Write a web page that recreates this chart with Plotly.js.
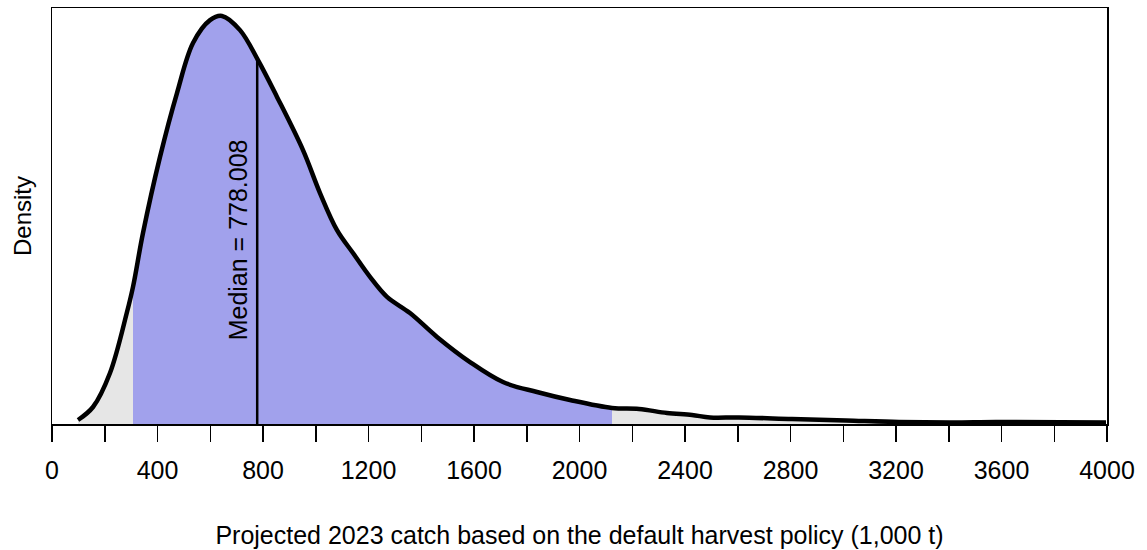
<!DOCTYPE html>
<html>
<head>
<meta charset="utf-8">
<script src="https://cdn.plot.ly/plotly-3.0.1.min.js"></script>
<style>html,body{margin:0;padding:0;background:#fff;}#chart{width:1147px;height:550px;}</style>
</head>
<body>
<div id="chart"></div>
<script>
// Projected 2023 catch (1,000 t) and kernel density
const catchValues = [98.6, 155.5, 219.9, 284.4, 307.1, 345.0, 409.5, 473.9, 534.6, 599.1, 644.5, 712.8, 781.0, 853.1, 951.7, 1016.1, 1080.6, 1141.2, 1205.7, 1270.1, 1357.3, 1459.7, 1584.8, 1709.9, 1838.9, 1964.0, 2123.2, 2225.6, 2331.8, 2426.5, 2494.8, 2604.7, 2805.7, 3010.4, 3211.4, 3416.1, 3579.1, 3996.2];
const densityValues = [0.0000124, 0.0000527, 0.000158, 0.000347, 0.000425, 0.000592, 0.000828, 0.001026, 0.001181, 0.001252, 0.001265, 0.001221, 0.001128, 0.001014, 0.000849, 0.000716, 0.000601, 0.000530, 0.000456, 0.000394, 0.000344, 0.000270, 0.000192, 0.000130, 0.0000992, 0.0000744, 0.0000496, 0.0000465, 0.0000341, 0.0000279, 0.0000202, 0.0000202, 0.0000155, 0.0000109, 0.0000062, 0.0000047, 0.0000062, 0.0000047];
const intervalLower = 307.1;
const intervalUpper = 2123.2;
const medianValue = 778.008;
const medianDensity = 0.00113;
const tickValues = [0, 200, 400, 600, 800, 1000, 1200, 1400, 1600, 1800, 2000, 2200, 2400, 2600, 2800, 3000, 3200, 3400, 3600, 3800, 4000];
const tickLabels = ["0", "", "400", "", "800", "", "1200", "", "1600", "", "2000", "", "2400", "", "2800", "", "3200", "", "3600", "", "4000"];
const xTitle = "Projected 2023 catch based on the default harvest policy (1,000 t)";
const yTitle = "Density";
const medianLabel = "Median = " + medianValue;

const midX = [], midY = [];
catchValues.forEach((v, i) => { if (v >= intervalLower && v <= intervalUpper) { midX.push(v); midY.push(densityValues[i]); } });

const fontFam = '"Liberation Sans", Arial, Helvetica, sans-serif';
const sm = 1.0;
const traces = [
  {x: catchValues, y: densityValues, type: 'scatter', mode: 'lines', fill: 'tozeroy', fillcolor: '#E6E6E6', line: {width: 0, shape: 'spline', smoothing: sm}, hoverinfo: 'skip'},
  {x: midX, y: midY, type: 'scatter', mode: 'lines', fill: 'tozeroy', fillcolor: '#A1A1EC', line: {width: 0, shape: 'spline', smoothing: sm}, hoverinfo: 'skip'},
  {x: [medianValue, medianValue], y: [0, medianDensity], type: 'scatter', mode: 'lines', line: {color: '#000', width: 2.5}, hoverinfo: 'skip'},
  {x: catchValues, y: densityValues, type: 'scatter', mode: 'lines', line: {color: '#000', width: 4.5, shape: 'spline', smoothing: sm}, hoverinfo: 'skip'}
];

const layout = {
  width: 1147, height: 550,
  margin: {l: 52, r: 40, t: 8, b: 126},
  paper_bgcolor: '#fff', plot_bgcolor: '#fff',
  showlegend: false,
  font: {family: fontFam, color: '#000', size: 25},
  xaxis: {
    range: [0, 4000], tickvals: tickValues, ticktext: tickLabels,
    ticks: 'outside', ticklen: 16, tickwidth: 1.5, tickcolor: '#000',
    ticklabelstandoff: 7,
    showline: true, linecolor: '#000', linewidth: 1.5, mirror: true,
    showgrid: false, zeroline: false,
    tickfont: {size: 25, family: fontFam},
    title: {text: xTitle, font: {size: 25, family: fontFam}, standoff: 44}
  },
  yaxis: {
    range: [0, 0.0012896],
    showticklabels: false, ticks: '',
    showline: true, linecolor: '#000', linewidth: 1.5, mirror: true,
    showgrid: false, zeroline: false,
    title: {text: yTitle, font: {size: 24, family: fontFam}, standoff: 12}
  },
  annotations: [{
    x: medianValue, xref: 'x', y: 0.442, yref: 'paper',
    text: medianLabel, textangle: -90, showarrow: false,
    xanchor: 'right', yanchor: 'middle', xshift: -3,
    font: {size: 25, family: fontFam, color: '#000'}
  }]
};
Plotly.newPlot('chart', traces, layout, {displayModeBar: false, staticPlot: true});
</script>
</body>
</html>
